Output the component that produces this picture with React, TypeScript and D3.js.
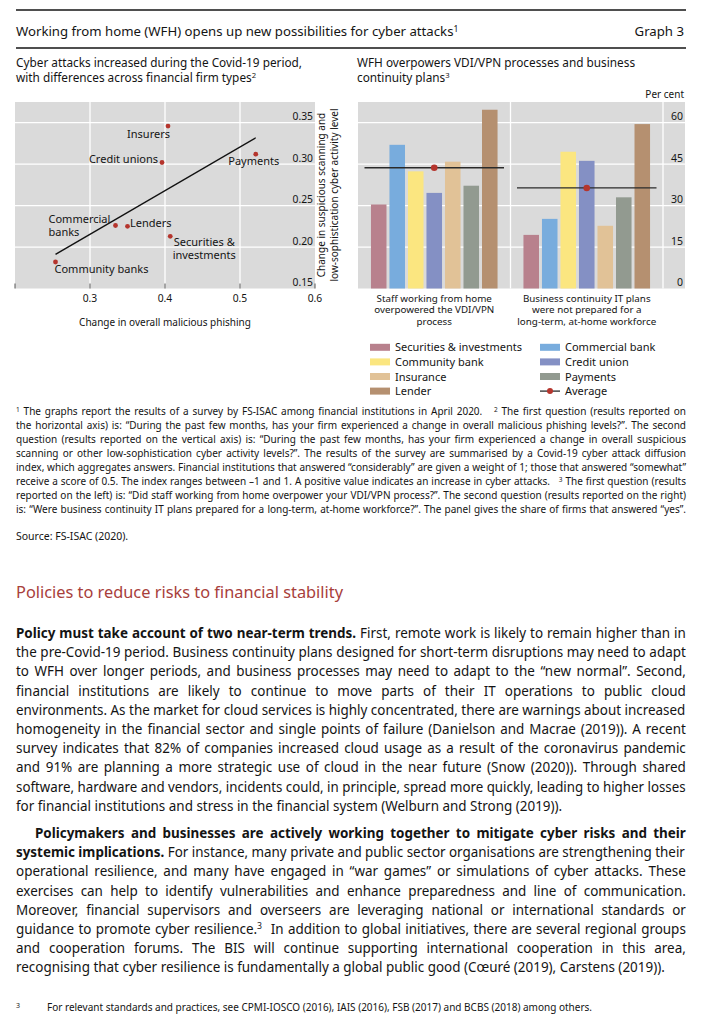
import React, { useRef, useEffect } from "react";
import * as d3 from "d3";

const FONT = "'Noto Sans', 'Open Sans', sans-serif";
const INK = "#141414";

// left panel: Covid-19 cyber attack diffusion index by firm type
const firmTypes = ["Insurers", "Credit unions", "Payments", "Commercial banks", "Lenders", "Securities & investments", "Community banks"];
const phishing = [0.404, 0.396, 0.521, 0.334, 0.35, 0.407, 0.254];
const scanning = [0.346, 0.302, 0.312, 0.226, 0.225, 0.213, 0.182];
const phishTicks = [0.2, 0.3, 0.4, 0.5, 0.6];
const scanTicks = [0.15, 0.2, 0.25, 0.3, 0.35];

// right panel: share of firms answering "yes", per cent
const questions = [
  ["Staff working from home", "overpowered the VDI/VPN", "process"],
  ["Business continuity IT plans", "were not prepared for a", "long-term, at-home workforce"],
];
const sectors = ["Securities & investments", "Commercial bank", "Community bank", "Credit union", "Insurance", "Payments", "Lender"];
const vdiShares = [30.4, 52.0, 42.4, 34.6, 45.9, 37.2, 64.7];
const bcpShares = [19.4, 25.2, 49.5, 46.2, 22.7, 33.0, 59.5];
const averages = [43.7, 36.4];
const pctTicks = [0, 15, 30, 45, 60];

const sectorColors = ["#b8818d", "#78acdd", "#fbe680", "#8490c4", "#e1c297", "#929a90", "#b59070"];
const dotColor = "#b5352d";
const panelBg = "#dadada";

// label placement for scatter points (offsets from the point, lines of text)
const labelPlace: { dx: number; dy: number; anchor: string; lines: string[] }[] = [
  { dx: 2, dy: 12, anchor: "end", lines: ["Insurers"] },
  { dx: -4, dy: 0, anchor: "end", lines: ["Credit unions"] },
  { dx: -2, dy: 10.5, anchor: "middle", lines: ["Payments"] },
  { dx: -67, dy: -3, anchor: "start", lines: ["Commercial", "banks"] },
  { dx: 2.5, dy: 1, anchor: "start", lines: ["Lenders"] },
  { dx: 34, dy: 9.5, anchor: "middle", lines: ["Securities &", "investments"] },
  { dx: -1, dy: 11.5, anchor: "start", lines: ["Community banks"] },
];

const footnotes = [
  "^1 The graphs report the results of a survey by FS-ISAC among financial institutions in April 2020.\u00a0\u00a0 ^2 The first question (results reported on",
  "the horizontal axis) is: “During the past few months, has your firm experienced a change in overall malicious phishing levels?”. The second",
  "question (results reported on the vertical axis) is: “During the past few months, has your firm experienced a change in overall suspicious",
  "scanning or other low-sophistication cyber activity levels?”. The results of the survey are summarised by a Covid-19 cyber attack diffusion",
  "index, which aggregates answers. Financial institutions that answered “considerably” are given a weight of 1; those that answered “somewhat”",
  "receive a score of 0.5. The index ranges between –1 and 1. A positive value indicates an increase in cyber attacks.\u00a0\u00a0 ^3 The first question (results",
  "reported on the left) is: “Did staff working from home overpower your VDI/VPN process?”. The second question (results reported on the right)",
  "is: “Were business continuity IT plans prepared for a long-term, at-home workforce?”. The panel gives the share of firms that answered “yes”.",
];

const para1: [string, string][] = [
  ["Policy must take account of two near-term trends.", " First, remote work is likely to remain higher than in"],
  ["", "the pre-Covid-19 period. Business continuity plans designed for short-term disruptions may need to adapt"],
  ["", "to WFH over longer periods, and business processes may need to adapt to the “new normal”. Second,"],
  ["", "financial institutions are likely to continue to move parts of their IT operations to public cloud"],
  ["", "environments. As the market for cloud services is highly concentrated, there are warnings about increased"],
  ["", "homogeneity in the financial sector and single points of failure (Danielson and Macrae (2019)). A recent"],
  ["", "survey indicates that 82% of companies increased cloud usage as a result of the coronavirus pandemic"],
  ["", "and 91% are planning a more strategic use of cloud in the near future (Snow (2020)). Through shared"],
  ["", "software, hardware and vendors, incidents could, in principle, spread more quickly, leading to higher losses"],
  ["", "for financial institutions and stress in the financial system (Welburn and Strong (2019))."],
];
const para2: [string, string][] = [
  ["Policymakers and businesses are actively working together to mitigate cyber risks and their", ""],
  ["systemic implications.", " For instance, many private and public sector organisations are strengthening their"],
  ["", "operational resilience, and many have engaged in “war games” or simulations of cyber attacks. These"],
  ["", "exercises can help to identify vulnerabilities and enhance preparedness and line of communication."],
  ["", "Moreover, financial supervisors and overseers are leveraging national or international standards or"],
  ["", "guidance to promote cyber resilience.^3\u00a0 In addition to global initiatives, there are several regional groups"],
  ["", "and cooperation forums. The BIS will continue supporting international cooperation in this area,"],
  ["", "recognising that cyber resilience is fundamentally a global public good (Cœuré (2019), Carstens (2019))."],
];

// render "^n" markers as superscripts
function withSup(s: string, size: number) {
  const parts = s.split(/\^(\d)/);
  const sh = size * 0.33;
  let pending = 0;
  return parts.map((p, i) => {
    if (i % 2 === 1) {
      pending = sh;
      return (
        <tspan key={i} dy={-sh} fontSize={size * 0.65}>{p}</tspan>
      );
    }
    if (!p) return null;
    const dy = pending;
    pending = 0;
    return (
      <tspan key={i} dy={dy ? dy : undefined}>{p}</tspan>
    );
  });
}

// justify lines: one common horizontal squeeze per block (condensed look), word spacing fills the rest
// data-j: "1" justified, "0" squeezed only, "2" left as is
function justify(svgEl: SVGSVGElement, cls: string) {
  const nodes = d3.select(svgEl).selectAll<SVGTextElement, unknown>(`text.${cls}`).nodes();
  const info = nodes.map((n) => {
    n.style.wordSpacing = "0px";
    return {
      n,
      w0: n.getComputedTextLength(),
      target: +(n.dataset.w || 0),
      x: +(n.dataset.x || 0),
      mode: n.dataset.j || "0",
      spaces: (n.textContent || "").split(/[ \u00a0]/).length - 1,
    };
  });
  const ratios = info.filter((d) => d.mode === "1").map((d) => d.target / d.w0).sort(d3.ascending);
  const k = Math.min(1, d3.quantile(ratios, 0.15) || 1);
  info.forEach((d) => {
    if (d.mode === "2") return;
    let kk = k;
    let ws = 0;
    if (d.mode === "1") {
      ws = (d.target / k - d.w0) / Math.max(1, d.spaces);
      if (ws < 0) {
        ws = 0;
        kk = d.target / d.w0;
      }
    }
    d.n.style.wordSpacing = `${ws}px`;
    d.n.setAttribute("x", "0");
    d.n.setAttribute("transform", `translate(${d.x},0) scale(${kk},1)`);
  });
}

const App: React.FC = () => {
  const svgRef = useRef<SVGSVGElement | null>(null);

  useEffect(() => {
    if (!svgRef.current) return;
    justify(svgRef.current, "note");
    justify(svgRef.current, "body");
  }, []);

  // ---- left scatter ----
  const xL = d3.scaleLinear().domain([0.2, 0.6]).range([15, 315]);
  const yL = d3.scaleLinear().domain([0.15, 0.375]).range([288.5, 102]);
  const mx = d3.mean(phishing) as number;
  const my = d3.mean(scanning) as number;
  const slope =
    d3.sum(phishing.map((x, i) => (x - mx) * (scanning[i] - my))) /
    d3.sum(phishing.map((x) => (x - mx) * (x - mx)));
  const fitLine = d3
    .line<number>()
    .x((x) => xL(x))
    .y((x) => yL(my + slope * (x - mx)))(d3.extent(phishing) as [number, number]);

  // ---- right bars ----
  const yR = d3.scaleLinear().domain([0, 67.5]).range([288.5, 102]);
  const xGroup = d3.scaleBand<number>().domain([0, 1]).range([358, 663]);
  const xBar = d3
    .scaleBand<string>()
    .domain(sectors)
    .range([0, xGroup.bandwidth()])
    .paddingInner(0.16)
    .paddingOuter(0.7);
  const groups = [vdiShares, bcpShares];
  const legY = (row: number) => 347.3 + row * 14.6;

  return (
    <svg
      ref={svgRef}
      width={708}
      height={1024}
      style={{ position: "absolute", left: 0, top: 0, background: "#fff" }}
      fontFamily={FONT}
      fill={INK}
    >
      {/* header */}
      <line x1={16} x2={686} y1={10} y2={10} stroke={INK} strokeWidth={1.3} />
      <text x={16} y={36} fontSize={13.2}>
        {withSup("Working from home (WFH) opens up new possibilities for cyber attacks^1", 13.2)}
      </text>
      <text x={684} y={36} fontSize={13.2} textAnchor="end">Graph 3</text>
      <line x1={16} x2={686} y1={48} y2={48} stroke={INK} strokeWidth={1.3} />

      <text x={16} y={66.5} fontSize={11.8}>Cyber attacks increased during the Covid-19 period,</text>
      <text x={16} y={81.5} fontSize={11.8}>{withSup("with differences across financial firm types^2", 11.8)}</text>
      <text x={357} y={66.5} fontSize={11.8}>WFH overpowers VDI/VPN processes and business</text>
      <text x={357} y={81.5} fontSize={11.8}>{withSup("continuity plans^3", 11.8)}</text>

      {/* left panel */}
      <rect x={xL(0.2)} y={yL(0.375)} width={xL(0.6) - xL(0.2)} height={yL(0.15) - yL(0.375)} fill={panelBg} />
      {scanTicks.slice(1).map((t) => (
        <line key={t} x1={xL(0.2)} x2={xL(0.6)} y1={yL(t)} y2={yL(t)} stroke="#fff" strokeWidth={1.3} />
      ))}
      {phishTicks.slice(1, -1).map((t) => (
        <line key={t} x1={xL(t)} x2={xL(t)} y1={yL(0.375)} y2={yL(0.15)} stroke="#fff" strokeWidth={1.3} />
      ))}
      {phishTicks.map((t) => (
        <line key={"tk" + t} x1={xL(t)} x2={xL(t)} y1={yL(0.15) - 5} y2={yL(0.15)} stroke="#555" strokeWidth={1} />
      ))}
      {scanTicks.map((t) => (
        <text key={t} x={313} y={yL(t) - 2.5} fontSize={10.3} textAnchor="end">{t.toFixed(2)}</text>
      ))}
      {phishTicks.slice(1).map((t) => (
        <text key={t} x={xL(t)} y={302} fontSize={10.3} textAnchor="middle">{t.toFixed(1)}</text>
      ))}
      <path d={fitLine || ""} stroke="#111" strokeWidth={1.4} fill="none" />
      {phishing.map((x, i) => (
        <circle key={firmTypes[i]} cx={xL(x)} cy={yL(scanning[i])} r={2.4} fill={dotColor} />
      ))}
      {phishing.map((x, i) => {
        const lp = labelPlace[i];
        return (
          <text key={firmTypes[i]} x={xL(x) + lp.dx} y={yL(scanning[i]) + lp.dy} fontSize={11} textAnchor={lp.anchor}>
            {lp.lines.map((l, j) => (
              <tspan key={j} x={xL(x) + lp.dx} dy={j === 0 ? 0 : 13.5}>{l}</tspan>
            ))}
          </text>
        );
      })}
      <text x={165} y={326} fontSize={10} textAnchor="middle">Change in overall malicious phishing</text>
      <text transform="translate(325,195) rotate(-90)" fontSize={10} textAnchor="middle">
        <tspan x={0} dy={0}>Change in suspicious scanning and</tspan>
        <tspan x={0} dy={12.5}>low-sophistication cyber activity level</tspan>
      </text>

      {/* right panel */}
      <text x={684} y={98} fontSize={10} textAnchor="end">Per cent</text>
      <rect x={358} y={yR(67.5)} width={685 - 358} height={yR(0) - yR(67.5)} fill={panelBg} />
      {pctTicks.slice(1).map((t) => (
        <line key={t} x1={358} x2={685} y1={yR(t)} y2={yR(t)} stroke="#fff" strokeWidth={1.3} />
      ))}
      {[xGroup(1) as number, 663].map((x) => (
        <line key={x} x1={x} x2={x} y1={yR(67.5)} y2={yR(0)} stroke="#fff" strokeWidth={1.3} />
      ))}
      {pctTicks.map((t) => (
        <text key={t} x={683} y={yR(t) - 2.5} fontSize={10.5} textAnchor="end">{t}</text>
      ))}
      {groups.map((vals, g) => {
        const gx = xGroup(g) as number;
        const cx = gx + xGroup.bandwidth() / 2;
        return (
          <g key={g}>
            {vals.map((v, i) => (
              <rect
                key={sectors[i]}
                x={gx + (xBar(sectors[i]) as number)}
                y={yR(v)}
                width={xBar.bandwidth()}
                height={yR(0) - yR(v)}
                fill={sectorColors[i]}
              />
            ))}
            <line x1={gx + 6.5} x2={gx + xGroup.bandwidth() - 6.5} y1={yR(averages[g])} y2={yR(averages[g])} stroke="#2a2a2a" strokeWidth={1.3} />
            <circle cx={cx} cy={yR(averages[g])} r={3.3} fill={dotColor} />
            <text x={cx} y={302} fontSize={9.8} textAnchor="middle">
              {questions[g].map((l, j) => (
                <tspan key={j} x={cx} dy={j === 0 ? 0 : 11.4}>{l}</tspan>
              ))}
            </text>
          </g>
        );
      })}

      {/* legend */}
      {sectors.map((s, i) => {
        const lx = i % 2 === 0 ? 370 : 540;
        const ly = legY(Math.floor(i / 2));
        return (
          <g key={s}>
            <rect x={lx} y={ly - 3.5} width={20} height={7} fill={sectorColors[i]} />
            <text x={lx + 25} y={ly + 4} fontSize={11}>{s}</text>
          </g>
        );
      })}
      <line x1={540} x2={560} y1={legY(3)} y2={legY(3)} stroke="#2a2a2a" strokeWidth={1.3} />
      <circle cx={550} cy={legY(3)} r={3} fill={dotColor} />
      <text x={565} y={legY(3) + 4} fontSize={11}>Average</text>

      {/* footnotes */}
      {footnotes.map((l, i) => (
        <text key={i} className="note" data-x={16} data-w={670} data-j="1" x={16} y={415 + i * 14} fontSize={10}>
          {withSup(l, 10)}
        </text>
      ))}
      <text className="note" data-x={16} data-w={124} data-j="2" x={16} y={540} fontSize={10.5}>Source: FS-ISAC (2020).</text>

      {/* body text */}
      <text x={16} y={598} fontSize={15.5} fill="#a8403b" textLength={327} lengthAdjust="spacingAndGlyphs">
        Policies to reduce risks to financial stability
      </text>
      {para1.map(([b, t], i) => (
        <text
          key={i}
          className="body"
          data-x={16}
          data-w={670}
          data-j={i === para1.length - 1 ? "0" : "1"}
          x={16}
          y={638 + i * 19.2}
          fontSize={14}
        >
          {b && <tspan fontWeight="bold">{b}</tspan>}
          {withSup(t, 14)}
        </text>
      ))}
      {para2.map(([b, t], i) => (
        <text
          key={i}
          className="body"
          data-x={i === 0 ? 35 : 16}
          data-w={i === 0 ? 651 : 670}
          data-j={i === para2.length - 1 ? "0" : "1"}
          x={i === 0 ? 35 : 16}
          y={838 + i * 19.2}
          fontSize={14}
        >
          {b && <tspan fontWeight="bold">{b}</tspan>}
          {t && withSup(t, 14)}
        </text>
      ))}
      <text x={16} y={1008} fontSize={7}>3</text>
      <text className="note" data-x={47} data-w={608} data-j="2" x={47} y={1011} fontSize={10}>
        For relevant standards and practices, see CPMI-IOSCO (2016), IAIS (2016), FSB (2017) and BCBS (2018) among others.
      </text>
    </svg>
  );
};

export default App;
